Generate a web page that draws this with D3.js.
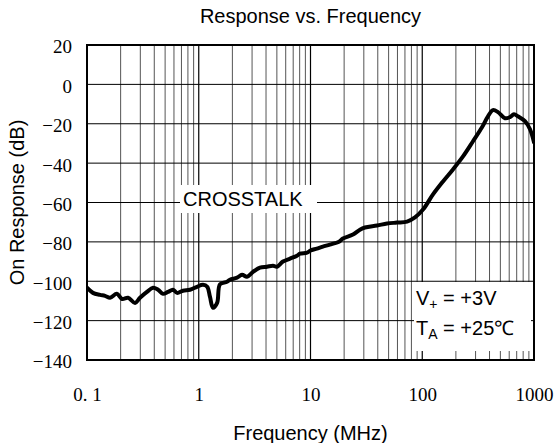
<!DOCTYPE html>
<html>
<head>
<meta charset="utf-8">
<script src="https://cdn.jsdelivr.net/npm/d3@7"></script>
<style>
  body { margin: 0; background: #fff; }
  svg { display: block; }
</style>
</head>
<body>
<script>
/* Data */
const freq = [0.1, 0.113, 0.131, 0.145, 0.161, 0.185, 0.206, 0.233, 0.269, 0.298,
  0.344, 0.39, 0.432, 0.479, 0.531, 0.589, 0.639, 0.723, 0.835, 0.964,
  1.09, 1.19, 1.26, 1.34, 1.46, 1.55, 1.79, 1.9, 2.2, 2.44,
  2.7, 3.06, 3.53, 4.08, 4.62, 5.01, 5.67, 6.56, 7.57, 8.06,
  9.31, 9.91, 11.4, 12.9, 14.9, 18.0, 19.5, 24.0, 27.7, 30.7,
  39.4, 48.4, 59.4, 73.1, 86.1, 101.6, 124.8, 153.4, 188.4, 231.6,
  284.6, 342.6, 387.5, 429.5, 476, 550, 610, 662, 719, 830,
  921, 1000];
const crosstalk = [-103.3, -105.9, -106.9, -107.4, -108.4, -106.4, -109, -108.4, -111, -108.4,
  -105.4, -103.3, -104.3, -106.4, -105.4, -104.3, -105.9, -104.8, -104.3, -102.8,
  -101.8, -102.8, -107.9, -113.5, -111, -101.5, -100.3, -99.2, -98.2, -96.7,
  -97.7, -95.2, -93.1, -92.6, -92.1, -92.6, -90, -88.5, -87, -86,
  -85.5, -84.5, -83.4, -82.4, -81.4, -79.9, -78.3, -76.3, -73.8, -72.7,
  -71.7, -70.7, -70.2, -69.7, -67.6, -63.6, -55.9, -49.3, -43.2, -36.6,
  -28.9, -21.8, -16.2, -13.1, -14.1, -17.2, -16.6, -15.2, -16.2, -18.7,
  -22.8, -29.4];
const xTicks = [0.1, 1, 10, 100, 1000];
const xTickLabels = ["0. 1", "1", "10", "100", "1000"];
const yTicks = [20, 0, -20, -40, -60, -80, -100, -120, -140];

/* Layout */
const W = 556, H = 443;
const PLOT = { left: 87, right: 534, top: 45, bottom: 360 };
const SANS = "'Liberation Sans', Arial, sans-serif";
const SERIF = "'Liberation Serif', 'Times New Roman', serif";

const svg = d3.select("body").append("svg")
  .attr("width", W)
  .attr("height", H);

/* Scales */
const x = d3.scaleLog().domain([0.1, 1000]).range([PLOT.left, PLOT.right]);
const y = d3.scaleLinear().domain([-140, 20]).range([PLOT.bottom, PLOT.top]);

/* Grid */
let minor = [];
[0.1, 1, 10, 100].forEach(dec => {
  for (let k = 2; k <= 9; k++) minor.push(dec * k);
});

svg.append("g").selectAll("line")
  .data(minor)
  .enter().append("line")
  .attr("x1", d => x(d)).attr("x2", d => x(d))
  .attr("y1", PLOT.top).attr("y2", PLOT.bottom)
  .attr("stroke", "#555")
  .attr("stroke-width", 1);

svg.append("g").selectAll("line")
  .data([1, 10, 100])
  .enter().append("line")
  .attr("x1", d => x(d)).attr("x2", d => x(d))
  .attr("y1", PLOT.top).attr("y2", PLOT.bottom)
  .attr("stroke", "#000")
  .attr("stroke-width", 1.2);

svg.append("g").selectAll("line")
  .data(yTicks.slice(1, -1))
  .enter().append("line")
  .attr("x1", PLOT.left).attr("x2", PLOT.right)
  .attr("y1", d => y(d)).attr("y2", d => y(d))
  .attr("stroke", "#000")
  .attr("stroke-width", 1);

/* Label boxes */
svg.append("rect")
  .attr("x", 180).attr("y", 185)
  .attr("width", 137).attr("height", 28)
  .attr("fill", "#fff");

svg.append("rect")
  .attr("x", 414).attr("y", 282)
  .attr("width", 117).attr("height", 69)
  .attr("fill", "#fff");

svg.append("text")
  .attr("x", 183).attr("y", 206)
  .style("font-family", SANS).style("font-size", "20px")
  .text("CROSSTALK");

const v = svg.append("text")
  .attr("x", 416).attr("y", 305)
  .style("font-family", SANS).style("font-size", "20px");
v.append("tspan").text("V");
v.append("tspan").attr("dy", 4).style("font-size", "14px").text("+");
v.append("tspan").attr("dy", -4).text(" = +3V");

const t = svg.append("text")
  .attr("x", 416).attr("y", 335)
  .style("font-family", SANS).style("font-size", "20px");
t.append("tspan").text("T");
t.append("tspan").attr("dy", 4).style("font-size", "14px").text("A");
t.append("tspan").attr("dy", -4).text(" = +25\u2103");

/* Curve */
svg.append("clipPath").attr("id", "clip")
  .append("rect")
  .attr("x", PLOT.left).attr("y", PLOT.top)
  .attr("width", PLOT.right - PLOT.left)
  .attr("height", PLOT.bottom - PLOT.top);

const line = d3.line()
  .x(d => x(d[0]))
  .y(d => y(d[1]))
  .curve(d3.curveCatmullRom.alpha(0.5));

svg.append("path")
  .datum(d3.zip(freq, crosstalk))
  .attr("clip-path", "url(#clip)")
  .attr("d", line)
  .attr("fill", "none")
  .attr("stroke", "#000")
  .attr("stroke-width", 4)
  .attr("stroke-linejoin", "round")
  .attr("stroke-linecap", "round");

/* Border */
svg.append("rect")
  .attr("x", PLOT.left).attr("y", PLOT.top)
  .attr("width", PLOT.right - PLOT.left)
  .attr("height", PLOT.bottom - PLOT.top)
  .attr("fill", "none")
  .attr("stroke", "#000")
  .attr("stroke-width", 2);

/* Axes */
const yAxis = d3.axisLeft(y).tickValues(yTicks).tickSize(0).tickPadding(15);
const gy = svg.append("g")
  .attr("transform", "translate(" + PLOT.left + ",0)")
  .call(yAxis);
gy.select(".domain").remove();
gy.selectAll("text")
  .style("font-family", SERIF).style("font-size", "19px")
  .attr("dy", "0.42em");

const xAxis = d3.axisBottom(x).tickValues(xTicks).tickSize(0).tickPadding(28)
  .tickFormat((d, i) => xTickLabels[i]);
const gx = svg.append("g")
  .attr("transform", "translate(0," + PLOT.bottom + ")")
  .call(xAxis);
gx.select(".domain").remove();
gx.selectAll("text")
  .style("font-family", SERIF).style("font-size", "19px");

/* Titles */
svg.append("text")
  .attr("x", (PLOT.left + PLOT.right) / 2).attr("y", 23)
  .attr("text-anchor", "middle")
  .style("font-family", SANS).style("font-size", "20px")
  .text("Response vs. Frequency");

svg.append("text")
  .attr("x", (PLOT.left + PLOT.right) / 2).attr("y", 440)
  .attr("text-anchor", "middle")
  .style("font-family", SANS).style("font-size", "20px")
  .text("Frequency (MHz)");

svg.append("text")
  .attr("transform", "translate(24," + ((PLOT.top + PLOT.bottom) / 2) + ") rotate(-90)")
  .attr("text-anchor", "middle")
  .style("font-family", SANS).style("font-size", "20px")
  .text("On Response (dB)");
</script>
</body>
</html>
